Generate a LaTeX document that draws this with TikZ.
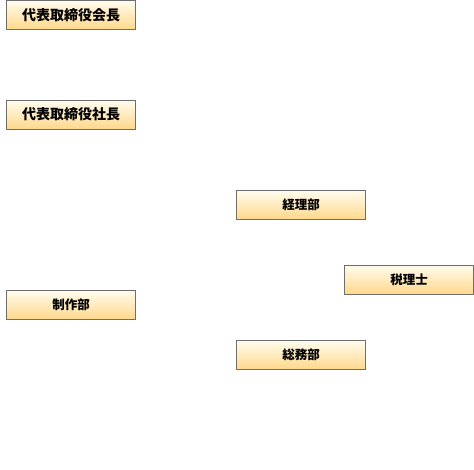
\documentclass[tikz,border=0pt]{standalone}
\usepackage{fontspec}
\newfontfamily\cjk{Noto Sans CJK JP}
\begin{document}
\begin{tikzpicture}[x=1pt,y=-1pt,
  orgbox/.style={draw={rgb,255:red,110;green,110;blue,110}, line width=1pt,
    top color={rgb,255:red,255;green,252;blue,238},
    bottom color={rgb,255:red,255;green,216;blue,138},
    minimum width=129pt, minimum height=29pt, inner sep=0pt,
    font=\cjk\bfseries\fontsize{12.5}{14}\selectfont},
  bigbox/.style={orgbox, font=\cjk\bfseries\fontsize{14}{16}\selectfont}]
\useasboundingbox (0,0) rectangle (474,470);
\node[bigbox] (kaicho) at (71,15) {代表取締役会長};
\node[bigbox] (shacho) at (71,114.7) {代表取締役社長};
\node[orgbox] (keiri) at (301,205) {経理部};
\node[orgbox] (zeirishi) at (409,279.8) {税理士};
\node[orgbox] (seisaku) at (71,305) {制作部};
\node[orgbox] (somu) at (301,355) {総務部};
\end{tikzpicture}
\end{document}
